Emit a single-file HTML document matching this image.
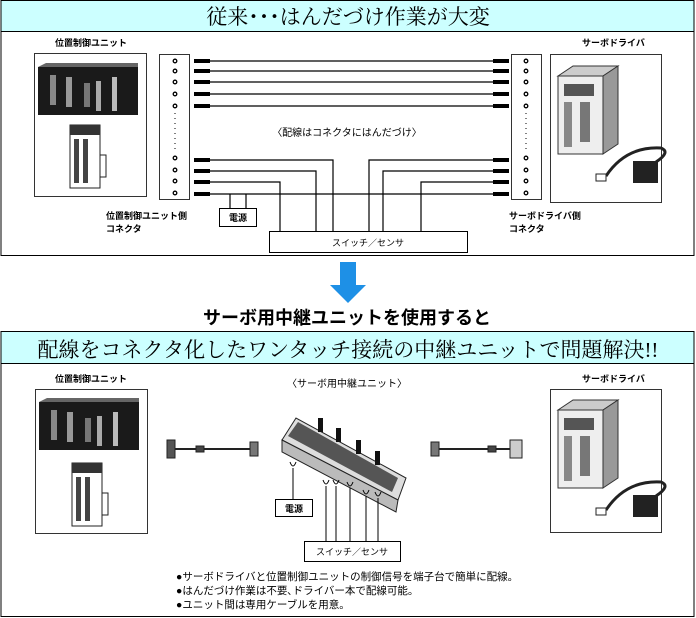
<!DOCTYPE html>
<html><head><meta charset="utf-8"><style>
html,body{margin:0;padding:0;background:#fff;}
svg{display:block;font-family:"Liberation Sans","Noto Sans CJK JP",sans-serif;}
</style></head><body>
<svg width="696" height="618" viewBox="0 0 696 618" xmlns="http://www.w3.org/2000/svg">
<defs>
<g id="plc">
<rect x="0" y="4" width="100" height="48" fill="#1a1a1a"/>
<polygon points="0,4 8,0 100,0 100,4" fill="#666"/>
<rect x="12" y="12" width="6" height="30" fill="#888"/>
<rect x="28" y="14" width="6" height="30" fill="#999"/>
<rect x="58" y="18" width="5" height="30" fill="#aaa"/>
<rect x="74" y="14" width="5" height="34" fill="#bbb"/>
<rect x="46" y="20" width="6" height="24" fill="#777"/>
</g>
<g id="mod">
<rect x="0" y="0" width="30" height="63" fill="#fff" stroke="#222"/>
<rect x="0" y="0" width="30" height="10" fill="#333"/>
<rect x="4" y="14" width="5" height="44" fill="#444"/>
<rect x="13" y="14" width="5" height="44" fill="#444"/>
<rect x="30" y="30" width="6" height="22" fill="#fff" stroke="#222"/>
</g>
<g id="drv">
<rect x="0" y="10" width="45" height="78" fill="#eee" stroke="#333"/>
<polygon points="0,10 15,0 60,0 45,10" fill="#ccc" stroke="#333"/>
<polygon points="45,10 60,0 60,78 45,88" fill="#999" stroke="#333"/>
<rect x="6" y="18" width="30" height="12" fill="#555"/>
<rect x="6" y="36" width="8" height="45" fill="#888"/>
<rect x="22" y="36" width="10" height="40" fill="#777"/>
<path d="M48,110 q20,-30 55,-28 q10,4 -5,14" stroke="#222" stroke-width="3" fill="none"/>
<rect x="75" y="95" width="25" height="22" fill="#222"/>
<rect x="38" y="108" width="10" height="7" fill="#fff" stroke="#222"/>
</g>
</defs>

<!-- TOP SECTION -->
<rect x="1" y="0.5" width="693" height="255" fill="#fff" stroke="#000"/>
<rect x="1" y="0.5" width="693" height="31" fill="#ccffff" stroke="#000"/>
<text x="348" y="24" font-size="21" text-anchor="middle" font-family="Liberation Serif,Noto Serif CJK SC,serif">従来･･･はんだづけ作業が大変</text>

<text x="55" y="46" font-size="9" font-weight="bold">位置制御ユニット</text>
<text x="582" y="46" font-size="9" font-weight="bold">サーボドライバ</text>
<rect x="34.5" y="53.5" width="112" height="143" fill="#fff" stroke="#333"/>
<use href="#plc" x="38" y="63"/>
<use href="#mod" x="70" y="125"/>
<rect x="550.5" y="54.5" width="111" height="148" fill="#fff" stroke="#333"/>
<use href="#drv" x="558" y="66"/>

<rect x="159.5" y="54.5" width="30" height="145" fill="#fff" stroke="#333"/>
<rect x="511.5" y="54.5" width="30" height="145" fill="#fff" stroke="#333"/>
<g fill="#fff" stroke="#000" stroke-width="1.3">
<circle cx="175" cy="61" r="1.8"/><circle cx="175" cy="71" r="1.8"/><circle cx="175" cy="82" r="1.8"/><circle cx="175" cy="94" r="1.8"/><circle cx="175" cy="106" r="1.8"/>
<circle cx="175" cy="158" r="1.8"/><circle cx="175" cy="170" r="1.8"/><circle cx="175" cy="181" r="1.8"/><circle cx="175" cy="193" r="1.8"/>
<circle cx="526" cy="61" r="1.8"/><circle cx="526" cy="71" r="1.8"/><circle cx="526" cy="82" r="1.8"/><circle cx="526" cy="94" r="1.8"/><circle cx="526" cy="106" r="1.8"/>
<circle cx="526" cy="158" r="1.8"/><circle cx="526" cy="170" r="1.8"/><circle cx="526" cy="181" r="1.8"/><circle cx="526" cy="193" r="1.8"/>
</g>
<line x1="175" y1="113" x2="175" y2="152" stroke="#000" stroke-dasharray="1,4"/>
<line x1="526" y1="113" x2="526" y2="152" stroke="#000" stroke-dasharray="1,4"/>

<g stroke="#000" stroke-width="1.2" fill="none">
<line x1="194" y1="61" x2="509" y2="61"/><line x1="194" y1="71" x2="509" y2="71"/><line x1="194" y1="82" x2="509" y2="82"/><line x1="194" y1="94" x2="509" y2="94"/><line x1="194" y1="106" x2="509" y2="106"/>
<polyline points="194,160 333,160 333,231"/>
<polyline points="194,171 316,171 316,231"/>
<polyline points="194,182 280,182 280,231"/>
<line x1="194" y1="194" x2="509" y2="194"/>
<polyline points="509,160 369,160 369,231"/>
<polyline points="509,171 383,171 383,231"/>
<polyline points="509,182 421,182 421,231"/>
<polyline points="230,194 230,208"/><polyline points="246,194 246,208"/>
</g>
<g stroke="#000" stroke-width="4">
<line x1="194" y1="61" x2="210" y2="61"/><line x1="194" y1="71" x2="210" y2="71"/><line x1="194" y1="82" x2="210" y2="82"/><line x1="194" y1="94" x2="210" y2="94"/><line x1="194" y1="106" x2="210" y2="106"/>
<line x1="194" y1="160" x2="210" y2="160"/><line x1="194" y1="171" x2="210" y2="171"/><line x1="194" y1="182" x2="210" y2="182"/><line x1="194" y1="194" x2="210" y2="194"/>
<line x1="493" y1="61" x2="509" y2="61"/><line x1="493" y1="71" x2="509" y2="71"/><line x1="493" y1="82" x2="509" y2="82"/><line x1="493" y1="94" x2="509" y2="94"/><line x1="493" y1="106" x2="509" y2="106"/>
<line x1="493" y1="160" x2="509" y2="160"/><line x1="493" y1="171" x2="509" y2="171"/><line x1="493" y1="182" x2="509" y2="182"/><line x1="493" y1="194" x2="509" y2="194"/>
</g>
<text x="347" y="136" font-size="10" text-anchor="middle">〈配線はコネクタにはんだづけ〉</text>
<rect x="219.5" y="208.5" width="37" height="18" fill="#fff" stroke="#000"/>
<text x="238" y="221" font-size="9" text-anchor="middle" font-weight="bold">電源</text>
<rect x="269.5" y="231.5" width="198" height="21" fill="#fff" stroke="#000"/>
<text x="368" y="246" font-size="9" text-anchor="middle">スイッチ／センサ</text>
<text x="106" y="219" font-size="9" font-weight="bold">位置制御ユニット側</text>
<text x="106" y="232" font-size="9" font-weight="bold">コネクタ</text>
<text x="509" y="219" font-size="9" font-weight="bold">サーボドライバ側</text>
<text x="509" y="232" font-size="9" font-weight="bold">コネクタ</text>

<!-- ARROW -->
<polygon points="340,262 356,262 356,285 366,285 348,303 330,285 340,285" fill="#1e90e6"/>
<text x="347" y="324" font-size="18" text-anchor="middle" font-weight="bold">サーボ用中継ユニットを使用すると</text>

<!-- BOTTOM SECTION -->
<rect x="1" y="331.5" width="693" height="285" fill="#fff" stroke="#000"/>
<rect x="1" y="331.5" width="693" height="32" fill="#ccffff" stroke="#000"/>
<text x="348" y="357" font-size="21" text-anchor="middle" font-family="Liberation Serif,Noto Serif CJK SC,serif">配線をコネクタ化したワンタッチ接続の中継ユニットで問題解決!!</text>

<text x="55" y="382" font-size="9" font-weight="bold">位置制御ユニット</text>
<text x="582" y="382" font-size="9" font-weight="bold">サーボドライバ</text>
<text x="347" y="387" font-size="10" text-anchor="middle">〈サーボ用中継ユニット〉</text>
<rect x="35.5" y="389.5" width="112" height="144" fill="#fff" stroke="#333"/>
<use href="#plc" x="39" y="398"/>
<use href="#mod" x="72" y="463"/>
<rect x="550.5" y="389.5" width="111" height="143" fill="#fff" stroke="#333"/>
<use href="#drv" x="558" y="400"/>

<!-- cables -->
<g stroke="#222" fill="#fff">
<rect x="167" y="440" width="8" height="18" fill="#555"/>
<line x1="175" y1="449" x2="250" y2="449" stroke-width="2"/>
<rect x="196" y="446" width="8" height="6" fill="#444"/>
<rect x="250" y="442" width="8" height="14" fill="#777"/>
<rect x="431" y="442" width="8" height="14" fill="#777"/>
<line x1="439" y1="449" x2="510" y2="449" stroke-width="2"/>
<rect x="488" y="446" width="8" height="6" fill="#444"/>
<rect x="510" y="440" width="12" height="18" fill="#ccc"/>
</g>
<!-- relay unit -->
<polygon points="282,440 296,418 406,478 398,500" fill="#ddd" stroke="#222"/>
<polygon points="288,436 298,422 398,478 392,492" fill="#555"/>
<polygon points="282,440 398,500 396,512 282,452" fill="#bbb" stroke="#222"/>
<g fill="#111"><rect x="318" y="418" width="5" height="14"/><rect x="336" y="428" width="5" height="14"/><rect x="356" y="440" width="5" height="14"/><rect x="375" y="451" width="5" height="14"/></g>

<g stroke="#000" fill="none" stroke-width="1">
<path d="M290,462 q3,8 6,0"/><line x1="293" y1="468" x2="293" y2="500"/>
<path d="M323,480 q3,8 6,0"/><line x1="326" y1="486" x2="326" y2="541"/>
<path d="M333,480 q3,8 6,0"/><line x1="336" y1="486" x2="336" y2="541"/>
<path d="M347,482 q3,8 6,0"/><line x1="350" y1="488" x2="350" y2="541"/>
<path d="M363,490 q3,8 6,0"/><line x1="366" y1="496" x2="366" y2="541"/>
<path d="M375,492 q3,8 6,0"/><line x1="378" y1="498" x2="378" y2="541"/>
</g>
<rect x="275.5" y="499.5" width="37" height="17" fill="#fff" stroke="#000"/>
<text x="294" y="512" font-size="9" text-anchor="middle" font-weight="bold">電源</text>
<rect x="304.5" y="541.5" width="96" height="20" fill="#fff" stroke="#000"/>
<text x="352" y="555" font-size="9" text-anchor="middle">スイッチ／センサ</text>

<g font-size="10.5">
<text x="176" y="580">●サーボドライバと位置制御ユニットの制御信号を端子台で簡単に配線。</text>
<text x="176" y="594">●はんだづけ作業は不要､ドライバー本で配線可能。</text>
<text x="176" y="608">●ユニット間は専用ケーブルを用意。</text>
</g>
</svg>
</body></html>
